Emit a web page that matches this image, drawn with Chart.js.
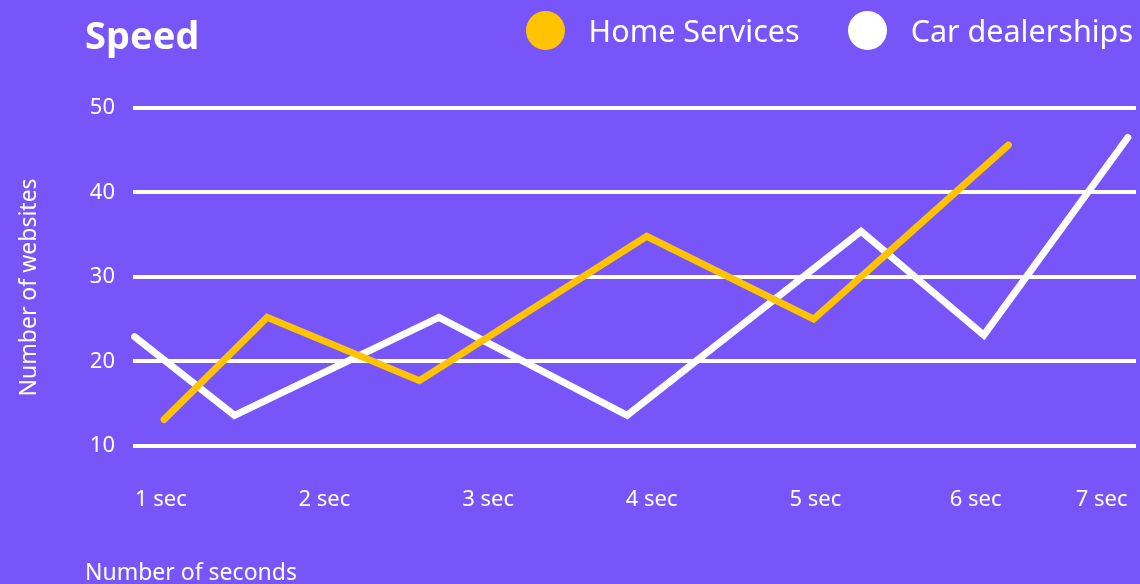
<!DOCTYPE html>
<html>
<head>
<meta charset="utf-8">
<script src="https://cdn.jsdelivr.net/npm/chart.js@4.4.1/dist/chart.umd.min.js"></script>
<style>
  html, body { margin: 0; padding: 0; background: #7855f8; }
  #wrap { position: relative; width: 1140px; height: 584px; }
  #legend {
    position: absolute; top: 9px; right: 7px;
    display: flex; align-items: center;
    font-family: "Noto Sans", sans-serif; font-size: 30.5px; color: #fff;
  }
  .item { display: flex; align-items: center; margin-left: 48px; }
  .item:first-child { margin-left: 0; }
  .dot { width: 39px; height: 39px; border-radius: 50%; margin-right: 24px; }
</style>
</head>
<body>
<div id="wrap">
  <canvas id="speedChart"></canvas>
  <div id="legend"></div>
</div>
<script>
const seriesNames = ["Home Services", "Car dealerships"];
const homeX = [1.02, 1.65, 2.58, 3.97, 4.99, 6.18];
const homeY = [13.1, 25.2, 17.7, 34.8, 25.0, 45.6];
const carX = [0.84, 1.45, 2.70, 3.85, 5.28, 6.03, 6.91];
const carY = [22.9, 13.6, 25.2, 13.6, 35.4, 23.1, 46.5];
const xTickPos = [1, 2, 3, 4, 5, 5.98, 6.75];
const xTickLabels = ["1 sec", "2 sec", "3 sec", "4 sec", "5 sec", "6 sec", "7 sec"];

const font = "'Noto Sans', sans-serif";
const toPoints = (xs, ys) => xs.map((x, i) => ({ x: x, y: ys[i] }));

// legend drawn as html so the dots/gaps can be styled freely
const htmlLegend = {
  id: "htmlLegend",
  afterUpdate(chart) {
    const box = document.getElementById("legend");
    box.innerHTML = "";
    chart.options.plugins.legend.labels.generateLabels(chart).forEach((item) => {
      const el = document.createElement("div");
      el.className = "item";
      const dot = document.createElement("span");
      dot.className = "dot";
      dot.style.background = item.fillStyle;
      const txt = document.createElement("span");
      txt.textContent = item.text;
      el.appendChild(dot);
      el.appendChild(txt);
      box.appendChild(el);
    });
  },
};

const ctx = document.getElementById("speedChart").getContext("2d");
new Chart(ctx, {
  type: "line",
  data: {
    datasets: [
      {
        label: seriesNames[0],
        data: toPoints(homeX, homeY),
        borderColor: "#ffc300",
        backgroundColor: "#ffc300",
      },
      {
        label: seriesNames[1],
        data: toPoints(carX, carY),
        borderColor: "#ffffff",
        backgroundColor: "#ffffff",
      },
    ],
  },
  options: {
    responsive: true,
    maintainAspectRatio: false,
    animation: false,
    layout: { padding: { left: 85, right: 4, top: 0, bottom: 0 } },
    elements: {
      line: { borderWidth: 7, tension: 0, borderCapStyle: "round", borderJoinStyle: "miter" },
      point: { radius: 0, hoverRadius: 0 },
    },
    datasets: { line: { clip: false } },
    plugins: {
      legend: { display: false },
      tooltip: { enabled: false },
      title: {
        display: true,
        text: "Speed",
        align: "start",
        color: "#fff",
        font: { family: font, size: 38, weight: "bold" },
        padding: { top: 15.5, bottom: 46.9 },
      },
      subtitle: {
        display: true,
        text: "Number of seconds",
        position: "bottom",
        align: "start",
        color: "#fff",
        font: { family: font, size: 23 },
        padding: { top: 0, bottom: -3 },
      },
    },
    scales: {
      x: {
        type: "linear",
        min: 0.83,
        max: 6.96,
        grid: { display: false },
        border: { display: false },
        afterBuildTicks: (scale) => {
          scale.ticks = xTickPos.map((v) => ({ value: v }));
        },
        afterFit: (scale) => {
          scale.height = 92.6;
        },
        ticks: {
          autoSkip: false,
          maxRotation: 0,
          padding: 12,
          color: "#fff",
          font: { family: font, size: 22 },
          callback: (value, index) => xTickLabels[index],
        },
      },
      y: {
        min: 7.5,
        max: 50,
        grid: { color: "#fff", lineWidth: 4, drawTicks: false },
        border: { display: false },
        afterFit: (scale) => {
          scale.width = 48;
        },
        ticks: {
          stepSize: 10,
          includeBounds: false,
          padding: 18,
          color: "#fff",
          font: { family: font, size: 22 },
        },
        title: {
          display: true,
          text: "Number of websites",
          color: "#fff",
          font: { family: font, size: 23 },
          padding: { top: -69, bottom: 0 },
        },
      },
    },
  },
  plugins: [htmlLegend],
});
</script>
</body>
</html>
